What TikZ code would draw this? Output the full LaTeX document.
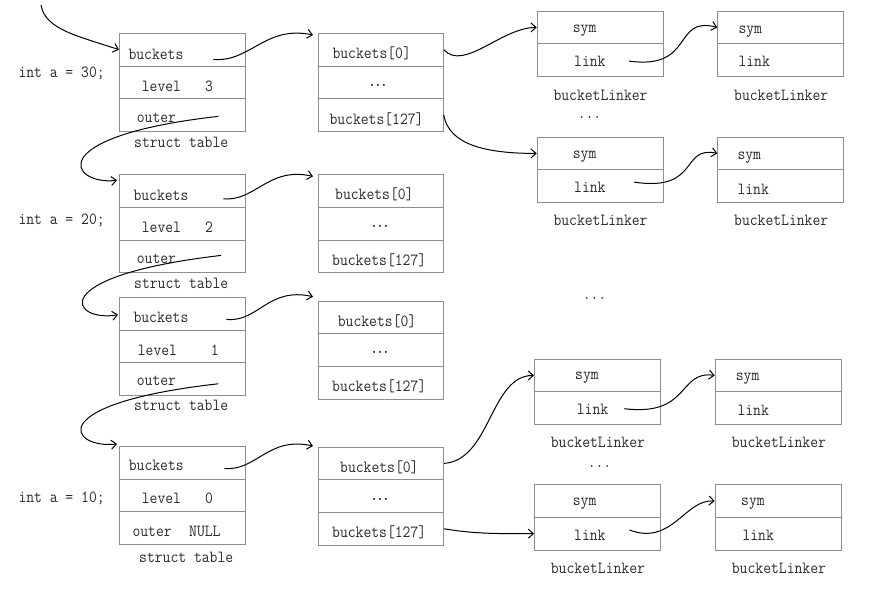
\documentclass[tikz,border=0pt]{standalone}
\usepackage{fontspec}
\newfontfamily\dfont[FakeStretch=0.895]{Latin Modern Mono}
\usetikzlibrary{arrows.meta}
\definecolor{boxgray}{HTML}{8E8E8E}
\definecolor{txtgray}{HTML}{2A2A2A}
\newcommand{\bdots}{{\normalfont\bfseries\fontsize{15}{17}\selectfont .\kern1.2pt.\kern1.2pt.}}
\begin{document}
\begin{tikzpicture}[x=1pt,y=-1pt,
  cell/.style={draw=boxgray, line width=0.8pt, minimum width=126pt, minimum height=32.67pt, anchor=north west, inner sep=0pt},
  acell/.style={cell, minimum width=125pt},
  txt/.style={anchor=base west, inner sep=0pt, text=txtgray, font=\dfont\fontsize{17}{20}\selectfont},
  ctr/.style={txt, anchor=base},
  arr/.style={draw=black, line width=1pt, -{Straight Barb[length=5pt,width=9pt]}}]
\useasboundingbox (0,0) rectangle (872,589);

% ---- struct tables ----
\node[cell] (t1b) at (119,33) {};
\node[cell] (t1l) at (119,65.67) {};
\node[cell] (t1o) at (119,98.33) {};
\node[cell] (t2b) at (119,174.33) {};
\node[cell] (t2l) at (119,207) {};
\node[cell] (t2o) at (119,239.67) {};
\node[cell] (t3b) at (119,297) {};
\node[cell] (t3l) at (119,329.67) {};
\node[cell] (t3o) at (119,362.33) {};
\node[cell] (t4b) at (119,446) {};
\node[cell] (t4l) at (119,478.67) {};
\node[cell] (t4o) at (119,511.33) {};

% ---- bucket arrays ----
\node[acell] (a1r0) at (318,33) {};
\node[acell] (a1r1) at (318,65.67) {};
\node[acell] (a1r2) at (318,98.33) {};
\node[acell] (a2r0) at (318,174.33) {};
\node[acell] (a2r1) at (318,207) {};
\node[acell] (a2r2) at (318,239.67) {};
\node[acell] (a3r0) at (318,300.67) {};
\node[acell] (a3r1) at (318,333.33) {};
\node[acell] (a3r2) at (318,366) {};
\node[acell] (a4r0) at (318,446.67) {};
\node[acell] (a4r1) at (318,479.33) {};
\node[acell] (a4r2) at (318,512) {};

% ---- bucketLinkers ----
\node[cell] (l1as) at (536.7,10.7) {};
\node[cell] (l1al) at (536.7,43.37) {};
\node[cell] (l1bs) at (717.3,10.7) {};
\node[cell] (l1bl) at (717.3,43.37) {};
\node[cell] (l2as) at (536.7,136.7) {};
\node[cell] (l2al) at (536.7,169.37) {};
\node[cell] (l2bs) at (717.3,136.7) {};
\node[cell] (l2bl) at (717.3,169.37) {};
\node[cell] (l3as) at (534,358.7) {};
\node[cell] (l3al) at (534,391.37) {};
\node[cell] (l3bs) at (714.7,358.7) {};
\node[cell] (l3bl) at (714.7,391.37) {};
\node[cell] (l4as) at (534,484.3) {};
\node[cell] (l4al) at (534,516.97) {};
\node[cell] (l4bs) at (714.7,484.3) {};
\node[cell] (l4bl) at (714.7,516.97) {};

% ---- texts: left labels ----
\node[txt] (ia30) at (18.3,77.5) {int a = 30;};
\node[txt] (ia20) at (18.3,224.5) {int a = 20;};
\node[txt] (ia10) at (18.3,502) {int a = 10;};

% table 1
\node[txt] (t1bt) at (128.3,59) {buckets};
\node[txt] (t1lt) at (141.7,91.5) {level};
\node[txt] (t1lv) at (205,91.5) {3};
\node[txt] (t1ot) at (136.7,122.5) {outer};
\node[txt] (t1st) at (134,147) {struct table};
% table 2
\node[txt] (t2bt) at (133.3,200) {buckets};
\node[txt] (t2lt) at (141.7,232.5) {level};
\node[txt] (t2lv) at (205,232.5) {2};
\node[txt] (t2ot) at (136.7,263) {outer};
\node[txt] (t2st) at (134,288) {struct table};
% table 3
\node[txt] (t3bt) at (133.3,322) {buckets};
\node[txt] (t3lt) at (137.7,355) {level};
\node[txt] (t3lv) at (210.7,355) {1};
\node[txt] (t3ot) at (136.7,385.5) {outer};
\node[txt] (t3st) at (134,410.5) {struct table};
% table 4
\node[txt] (t4bt) at (128.7,470.5) {buckets};
\node[txt] (t4lt) at (141.7,503) {level};
\node[txt] (t4lv) at (205,503) {0};
\node[txt] (t4ot) at (132.3,536.5) {outer};
\node[txt] (t4nt) at (189,536.5) {NULL};
\node[txt] (t4st) at (139,562) {struct table};

% arrays
\node[txt] (a1t0) at (332.3,58.5) {buckets[0]};
\node[ctr] (a1t1) at (378,86.5) {\bdots};
\node[txt] (a1t2) at (329.3,124) {buckets[127]};
\node[txt] (a2t0) at (335,199.5) {buckets[0]};
\node[ctr] (a2t1) at (380,227.5) {\bdots};
\node[txt] (a2t2) at (332,265) {buckets[127]};
\node[txt] (a3t0) at (337.7,326) {buckets[0]};
\node[ctr] (a3t1) at (380,353) {\bdots};
\node[txt] (a3t2) at (332,391) {buckets[127]};
\node[txt] (a4t0) at (340,472) {buckets[0]};
\node[ctr] (a4t1) at (380,500) {\bdots};
\node[txt] (a4t2) at (332,537) {buckets[127]};

% linkers
\node[txt] (l1ast) at (572.7,32) {sym};
\node[txt] (l1alt) at (574,66) {link};
\node[txt] (l1bst) at (738.3,33) {sym};
\node[txt] (l1blt) at (738.3,66.5) {link};
\node[txt] (l1an) at (553.3,100) {bucketLinker};
\node[txt] (l1bn) at (734,100) {bucketLinker};
\node[ctr] (d1) at (589.5,118) {...};
\node[txt] (l2ast) at (572.7,158) {sym};
\node[txt] (l2alt) at (574,192.5) {link};
\node[txt] (l2bst) at (737.3,159) {sym};
\node[txt] (l2blt) at (737.3,194) {link};
\node[txt] (l2an) at (553.3,225) {bucketLinker};
\node[txt] (l2bn) at (734,225) {bucketLinker};
\node[ctr] (d2) at (594.5,299) {...};
\node[txt] (l3ast) at (575,379.5) {sym};
\node[txt] (l3alt) at (576.7,414) {link};
\node[txt] (l3bst) at (735.7,380.5) {sym};
\node[txt] (l3blt) at (737.3,415.5) {link};
\node[txt] (l3an) at (550.7,447) {bucketLinker};
\node[txt] (l3bn) at (731.7,447) {bucketLinker};
\node[ctr] (d3) at (599.5,467.5) {...};
\node[txt] (l4ast) at (572.7,505.5) {sym};
\node[txt] (l4alt) at (574,540) {link};
\node[txt] (l4bst) at (741,505.5) {sym};
\node[txt] (l4blt) at (742.3,540) {link};
\node[txt] (l4an) at (550.7,573) {bucketLinker};
\node[txt] (l4bn) at (731.7,573) {bucketLinker};

% ---- connectors ----
\coordinate (entry) at (41,5);
\draw[arr] (entry) .. controls +(4,25) and +(-39,-13.3) .. (t1b.west);

\draw[arr] ([shift={(31,9.7)}]t1b.center) .. controls +(37,3) and +(-48,-10) .. ([shift={(-5,2)}]a1r0.north west);
\draw[arr] ([shift={(41,7.7)}]t2b.center) .. controls +(32,3) and +(-45,-10) .. ([shift={(-5,2)}]a2r0.north west);
\draw[arr] ([shift={(44,5.7)}]t3b.center) .. controls +(32,3) and +(-45,-10) .. ([shift={(-5,-4)}]a3r0.north west);
\draw[arr] ([shift={(42,5.7)}]t4b.center) .. controls +(32,3) and +(-45,-10) .. ([shift={(-5,-0.7)}]a4r0.north west);

\draw[arr] ([shift={(36,1.3)}]t1o.center) .. controls +(-178,20) and +(-47,5) .. ([shift={(-2,6)}]t2b.north west);
\draw[arr] ([shift={(38.7,-1)}]t2o.center) .. controls +(-180,21) and +(-46,8) .. ([shift={(-1,1)}]t3b.west);
\draw[arr] ([shift={(36,4.7)}]t3o.center) .. controls +(-178,20) and +(-47,5) .. ([shift={(-2,-2)}]t4b.north west);

\draw[arr] (a1r0.east) .. controls +(20,22) and +(-35,0) .. (l1as.west);
\draw[arr] (a1r2.east) .. controls +(5,30) and +(-50,0) .. (l2as.west);
\draw[arr] ([shift={(29,1)}]l1al.center) .. controls +(66,9) and +(-45,-12) .. (l1bs.west);
\draw[arr] ([shift={(34,-4)}]l2al.center) .. controls +(66,10) and +(-37,-8) .. (l2bs.west);

\draw[arr] (a4r0.east) .. controls +(47,-3) and +(-44,0) .. (l3as.west);
\draw[arr] (a4r2.east) .. controls +(30,5) and +(-40,0) .. (l4al.west);
\draw[arr] ([shift={(27,0.6)}]l3al.center) .. controls +(66,8) and +(-37,-5) .. (l3bs.west);
\draw[arr] ([shift={(32,-3.7)}]l4al.center) .. controls +(43,16) and +(-30,-2) .. (l4bs.west);
\end{tikzpicture}
\end{document}
